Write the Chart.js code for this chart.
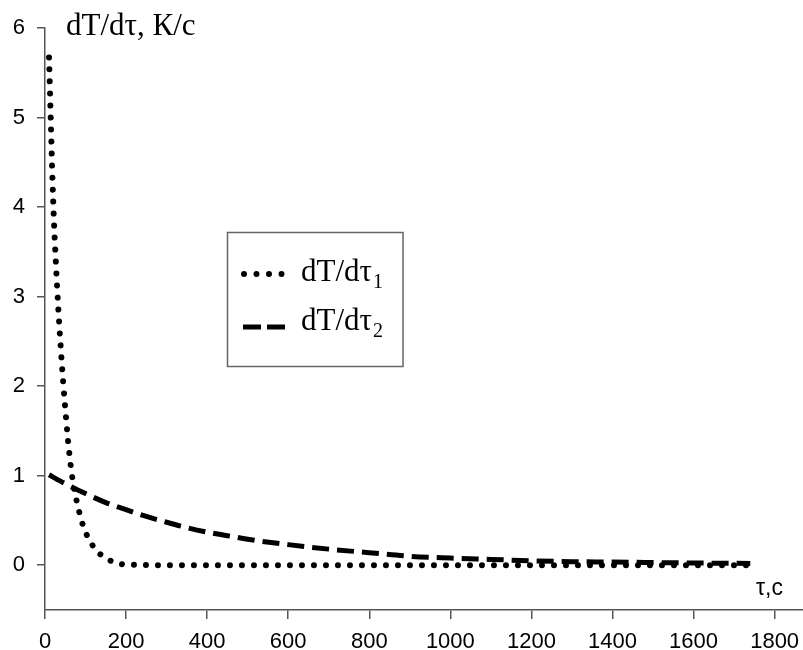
<!DOCTYPE html>
<html>
<head>
<meta charset="utf-8">
<script src="https://cdn.jsdelivr.net/npm/chart.js@4"></script>
<style>
html,body{margin:0;padding:0;background:#fff;}
#wrap{width:803px;height:650px;position:relative;}
</style>
</head>
<body>
<div id="wrap"><canvas id="c" width="803" height="650"></canvas></div>
<script>
// ---- data ----
const t1 = [10, 20, 30, 40, 50, 60, 70, 80, 90, 100, 110, 125, 140, 155, 170, 185, 200, 250, 300, 400, 600, 800, 1000, 1200, 1400, 1600, 1740];
const v1 = [5.67, 4.10, 3.10, 2.35, 1.75, 1.25, 0.90, 0.68, 0.50, 0.37, 0.28, 0.17, 0.11, 0.065, 0.035, 0.015, 0.008, 0.002, 0, 0, 0, 0, 0, 0, 0, 0, 0];
const t2 = [10, 50, 100, 150, 200, 250, 300, 350, 400, 450, 500, 600, 700, 800, 900, 1000, 1100, 1200, 1300, 1400, 1500, 1600, 1740];
const v2 = [1.01, 0.91, 0.80, 0.70, 0.62, 0.545, 0.48, 0.42, 0.37, 0.33, 0.29, 0.23, 0.18, 0.14, 0.10, 0.08, 0.065, 0.05, 0.04, 0.035, 0.03, 0.025, 0.02];
const seriesNames = ['dT/dτ', 'dT/dτ'];
const seriesSubs = ['1', '2'];
const xTicks = [0, 200, 400, 600, 800, 1000, 1200, 1400, 1600, 1800];
const yTicks = [0, 1, 2, 3, 4, 5, 6];
const yTitle = 'dT/dτ, К/с';
const xTitle = 'τ,с';

const toXY = (ts, vs) => ts.map((t, i) => ({x: t, y: vs[i]}));

const AXIS = '#555';

const overlay = {
  id: 'overlay',
  afterDraw(chart) {
    const ctx = chart.ctx;
    ctx.save();
    // axis titles
    ctx.fillStyle = '#000';
    ctx.textAlign = 'left';
    ctx.textBaseline = 'alphabetic';
    ctx.font = '31px "Liberation Serif"';
    ctx.fillText(yTitle, 66, 35);
    ctx.font = '23px "Liberation Sans"';
    ctx.fillText(xTitle, 756, 595);
    // legend box
    ctx.strokeStyle = '#666';
    ctx.lineWidth = 1.5;
    ctx.strokeRect(227.5, 232.5, 175.5, 134);
    const ds = chart.data.datasets;
    const rows = [{y: 274, base: 281}, {y: 327, base: 330}];
    rows.forEach((r, i) => {
      const d = ds[i];
      ctx.beginPath();
      ctx.lineWidth = d.borderWidth;
      ctx.lineCap = i === 0 ? 'round' : 'butt';
      ctx.setLineDash(i === 0 ? [0.001, 12.5] : [18, 6]);
      ctx.strokeStyle = '#000';
      ctx.moveTo(i === 0 ? 244 : 243, r.y);
      ctx.lineTo(i === 0 ? 283 : 285, r.y);
      ctx.stroke();
      ctx.setLineDash([]);
      ctx.font = '31px "Liberation Serif"';
      ctx.fillText(seriesNames[i], 301, r.base);
      const w = ctx.measureText(seriesNames[i]).width;
      ctx.font = '20px "Liberation Serif"';
      ctx.fillText(seriesSubs[i], 301 + w + 1, r.base + 7);
    });
    ctx.restore();
  }
};

new Chart(document.getElementById('c'), {
  type: 'scatter',
  data: {
    datasets: [
      {
        label: seriesNames[0] + seriesSubs[0],
        data: toXY(t1, v1),
        showLine: true,
        pointRadius: 0,
        borderColor: '#000',
        borderWidth: 6,
        borderDash: [0.001, 12],
        borderCapStyle: 'round',
        borderJoinStyle: 'round',
        cubicInterpolationMode: 'monotone'
      },
      {
        label: seriesNames[1] + seriesSubs[1],
        data: toXY(t2, v2),
        showLine: true,
        pointRadius: 0,
        borderColor: '#000',
        borderWidth: 5,
        borderDash: [17, 8],
        borderCapStyle: 'butt',
        cubicInterpolationMode: 'monotone'
      }
    ]
  },
  options: {
    responsive: false,
    animation: false,
    events: [],
    layout: {padding: {top: 28, left: 0, right: 0, bottom: 0}},
    plugins: {legend: {display: false}, tooltip: {enabled: false}},
    scales: {
      x: {
        type: 'linear',
        min: 0,
        max: 1870,
        afterBuildTicks(s) { s.ticks = xTicks.map(v => ({value: v})); },
        afterFit(s) { s.height = 40; s.paddingLeft = 0; s.paddingRight = 0; },
        ticks: {
          color: '#000',
          font: {family: '"Liberation Sans"', size: 22},
          padding: 10,
          maxRotation: 0,
          autoSkip: false,
          callback: v => String(v)
        },
        grid: {drawOnChartArea: false, drawTicks: true, tickLength: 9, color: AXIS, lineWidth: 1.5},
        border: {display: true, color: AXIS, width: 1.5}
      },
      y: {
        type: 'linear',
        min: -0.5,
        max: 6,
        afterBuildTicks(s) { s.ticks = yTicks.map(v => ({value: v})); },
        afterFit(s) { s.width = 45; s.paddingTop = 0; s.paddingBottom = 0; },
        ticks: {
          color: '#000',
          font: {family: '"Liberation Sans"', size: 22},
          padding: 12,
          autoSkip: false,
          callback: v => String(v)
        },
        grid: {drawOnChartArea: false, drawTicks: true, tickLength: 8, color: AXIS, lineWidth: 1.5},
        border: {display: true, color: AXIS, width: 1.5}
      }
    }
  },
  plugins: [overlay]
});
</script>
</body>
</html>
